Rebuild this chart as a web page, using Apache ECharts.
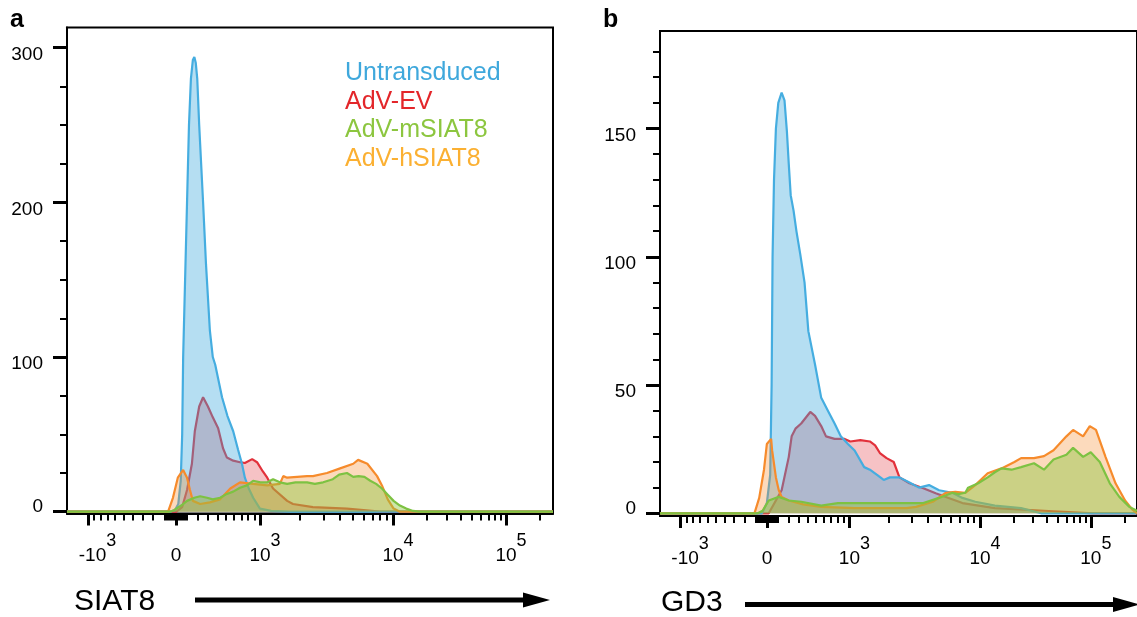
<!DOCTYPE html>
<html><head><meta charset="utf-8">
<script src="https://cdn.jsdelivr.net/npm/echarts@6/dist/echarts.min.js"></script>
<style>html,body{margin:0;padding:0;background:#fff}#c{width:1137px;height:617px}</style>
</head><body><div id="c"></div><script>
// ---------- DATA (x = display channel 0..1000 on the biexponential scale, y = count) ----------
const seriesNames = ['Untransduced', 'AdV-EV', 'AdV-mSIAT8', 'AdV-hSIAT8'];

// Panel a: SIAT8
const siat8Untransduced = [[0,0],[212,0],[222,1],[229,5],[234,20],[237,50],[239,100],[247,200],[251,250],[255,280],[259,292],[262,294],[265,290],[268,280],[272,250],[280,200],[286,160],[294,117],[300,100],[305,95],[319,74],[330,62],[342,52],[352,40],[360,31],[366,22],[374,15],[383,9],[397,2],[420,0.5],[460,0],[1000,0]];
const siat8EV = [[0,0],[225,0],[237,3],[247,14],[257,31],[263,52],[272,68],[280,74],[290,68],[300,61],[311,54],[321,41],[329,35],[342,33],[356,32],[366,31.5],[381,34],[391,32],[403,26],[412,22],[424,15],[453,7],[465,5],[506,3],[576,2],[644,0],[1000,0]];
const siat8mSIAT8 = [[0,0],[212,0],[220,1],[235,4],[247,7],[262,9],[274,10],[288,9],[300,8],[315,9],[329,11.5],[342,13],[356,15.5],[370,17],[383,20],[398,19],[412,19],[424,21],[438,19],[453,18],[470,19],[494,19],[510,18],[527,19],[547,21],[560,24],[576,25],[589,22.5],[600,23],[612,22.5],[624,20],[636,18],[648,15],[660,11],[672,7],[685,4],[698,2],[712,0.5],[725,0],[1000,0]];
const siat8hSIAT8 = [[0,0],[208,0],[218,9],[228,22],[239,27],[247,22],[253,14],[259,7],[274,5],[294,6],[315,8],[336,15],[356,19],[383,18],[412,17],[438,18],[445,23],[453,22],[494,23],[506,23],[535,25],[562,28],[589,31],[599,33.5],[618,31],[638,23],[648,17],[660,8],[672,2],[685,0],[1000,0]];

// Panel b: GD3
const gd3Untransduced = [[0,0],[214,0],[224,4],[231,15],[234,50],[236,100],[239,130],[243,150],[248,160],[255,164],[261,161],[266,149],[270,136],[274,124],[280,118],[286,110],[294,101],[303,90],[311,71],[325,58],[338,45],[352,40],[366,35],[379,30],[394,27],[408,24.5],[428,18],[440,17],[455,15],[469,13],[482,14],[502,14],[523,12],[543,10],[564,11],[585,9],[613,8],[634,6],[661,4.5],[702,3],[757,2],[799,0],[1000,0]];
const gd3EV = [[0,0],[228,0],[255,9],[270,22],[276,30],[284,33],[296,35],[315,39.5],[325,38],[338,34],[348,30],[366,29],[387,29],[399,28],[420,28.5],[440,28],[451,26.5],[461,23.5],[475,21.5],[490,20],[496,17],[502,14],[523,11.7],[552,9.8],[578,7.8],[605,6],[634,4],[702,2],[805,1],[908,0],[1000,0]];
const gd3mSIAT8 = [[0,0],[205,0],[215,1],[228,5],[249,6.4],[270,5],[296,4.5],[338,3],[373,4],[408,4],[455,4],[517,4],[552,4],[585,6],[613,8],[625,7.5],[640,8],[646,10],[667,11.7],[687,14],[702,16],[716,17.5],[737,17],[757,18],[784,19.5],[805,17],[825,21],[852,22.8],[866,25.5],[887,22],[903,23.8],[922,20],[943,11.7],[963,6.4],[984,2.5],[1000,1]];
const gd3hSIAT8 = [[0,0],[198,0],[208,6],[218,17],[224,27],[233,29],[235,24.6],[243,14],[249,9],[255,6.4],[270,5],[300,3.5],[338,2.5],[408,2],[455,2],[517,2],[537,2.5],[572,4.5],[599,8],[619,8.4],[640,8],[661,11],[687,15.6],[716,17.5],[743,20],[757,21.5],[784,21.5],[805,22.3],[825,24.6],[852,30],[866,32.5],[887,30],[901,34],[914,32.5],[934,22],[955,11.7],[975,5],[990,1.5],[1000,0]];

// Tick values (fluorescence units) and labels
const xMajorValues = [-1000, 0, 1000, 10000, 100000];
const xMajorBase = ['-10', '0', '10', '10', '10'];
const xMajorExp = ['3', '', '3', '4', '5'];
const xMinorValues = [-900,-800,-700,-600,-500,-400,-300,-200,-100,-90,-80,-70,-60,-50,-40,-30,-20,-10,
  10,20,30,40,50,60,70,80,90,100,200,300,400,500,600,700,800,900,
  2000,3000,4000,5000,6000,7000,8000,9000,20000,30000,40000,50000,60000,70000,80000,90000,200000];
const yMajorA = [0, 100, 200, 300];
const yMinorA = [25, 50, 75, 125, 150, 175, 225, 250, 275];
const yMajorB = [0, 50, 100, 150];
const yMinorB = [10, 20, 30, 40, 60, 70, 80, 90, 110, 120, 130, 140, 160, 170, 180];

// ---------- SCALE: biexponential display transform (fluorescence -> channel) ----------
function toChannel(v) {
  const A = 570, S = Math.asinh(1000 / A);
  if (v >= 1000) {
    const L = Math.log10(v), logs = [3, 4, 5, 6], ch = [397.1, 670.8, 903.3, 1135.8];
    for (let i = 0; i < 3; i++) if (L <= logs[i + 1]) return ch[i] + (L - logs[i]) / (logs[i + 1] - logs[i]) * (ch[i + 1] - ch[i]);
  }
  if (v >= 0) return 224.3 + 172.8 * Math.asinh(v / A) / S;
  return 224.3 - 181.1 * Math.asinh(-v / A) / S;
}

const FONT = "'Liberation Sans', Arial, Helvetica, sans-serif";
const colors = { 'Untransduced': '#45ade0', 'AdV-EV': '#e2313b', 'AdV-mSIAT8': '#7dc242', 'AdV-hSIAT8': '#f68b2c' };
const fills = { 'Untransduced': 'rgba(62,170,222,0.55)', 'AdV-EV': 'rgba(226,49,59,0.42)', 'AdV-mSIAT8': 'rgba(141,198,63,0.62)', 'AdV-hSIAT8': 'rgba(246,139,44,0.45)' };
const legendColors = { 'Untransduced': '#3fa8dc', 'AdV-EV': '#e3262a', 'AdV-mSIAT8': '#8cc63f', 'AdV-hSIAT8': '#fbb032' };

const majorCh = xMajorValues.map(toChannel);
const minorCh = xMinorValues.map(toChannel);

function xLabelFmt(v) {
  let idx = 0, best = 1e9;
  majorCh.forEach((c, i) => { if (Math.abs(c - v) < best) { best = Math.abs(c - v); idx = i; } });
  const b = xMajorBase[idx], e = xMajorExp[idx];
  if (!e) return '{b|' + b + '}';
  return (b.startsWith('-') ? '{pn| }' : '{p| }') + '{b|' + b + '}{s|' + e + '}';
}
const xRich = {
  b: { fontSize: 19, fontFamily: FONT, color: '#000', lineHeight: 19, padding: [14, 0, 0, 0] },
  s: { fontSize: 18, fontFamily: FONT, color: '#000', lineHeight: 18, padding: [0, 0, 15, 0] },
  p: { width: 10, fontSize: 18, lineHeight: 18 },
  pn: { width: 19, fontSize: 18, lineHeight: 18 }
};
const yRich = {
  n: { fontSize: 19, fontFamily: FONT, color: '#000', padding: [14, 0, 0, 0] },
  z: { fontSize: 19, fontFamily: FONT, color: '#000', padding: [0, 0, 9, 0] }
};

function xAxes(gridIndex) {
  return [{
    type: 'value', gridIndex, min: 0, max: 1000, position: 'bottom',
    axisLine: { show: true, onZero: false, lineStyle: { color: '#000', width: 2 } },
    axisTick: { show: true, customValues: majorCh, length: 12, lineStyle: { color: '#000', width: 3 } },
    axisLabel: { show: true, customValues: majorCh, margin: 26, formatter: xLabelFmt, rich: xRich },
    splitLine: { show: false }
  }, {
    type: 'value', gridIndex, min: 0, max: 1000, position: 'bottom',
    axisLine: { show: false, onZero: false },
    axisTick: { show: true, customValues: minorCh, length: 7, lineStyle: { color: '#000', width: 2 } },
    axisLabel: { show: false }, splitLine: { show: false }
  }];
}
function yAxes(gridIndex, min, max, majors, minors) {
  return [{
    type: 'value', gridIndex, min, max, position: 'left',
    axisLine: { show: true, onZero: false, lineStyle: { color: '#000', width: 2 } },
    axisTick: { show: true, customValues: majors, length: 14, lineStyle: { color: '#000', width: 3 } },
    axisLabel: { show: true, customValues: majors, margin: 24, formatter: v => (v === 0 ? '{z|0}' : '{n|' + v + '}'), rich: yRich },
    splitLine: { show: false }
  }, {
    type: 'value', gridIndex, min, max, position: 'left',
    axisLine: { show: false, onZero: false },
    axisTick: { show: true, customValues: minors, length: 7, lineStyle: { color: '#000', width: 2 } },
    axisLabel: { show: false }, splitLine: { show: false }
  }];
}
function mk(name, data, xi, yi, z) {
  return {
    type: 'line', name, data, xAxisIndex: xi, yAxisIndex: yi, z, symbol: 'none', showSymbol: false, smooth: false,
    lineStyle: { color: colors[name], width: 2.2 }, itemStyle: { color: colors[name] },
    areaStyle: { color: fills[name] }, emphasis: { disabled: true }
  };
}

const panelA = { 'Untransduced': siat8Untransduced, 'AdV-EV': siat8EV, 'AdV-mSIAT8': siat8mSIAT8, 'AdV-hSIAT8': siat8hSIAT8 };
const panelB = { 'Untransduced': gd3Untransduced, 'AdV-EV': gd3EV, 'AdV-mSIAT8': gd3mSIAT8, 'AdV-hSIAT8': gd3hSIAT8 };
const drawOrder = ['AdV-EV', 'Untransduced', 'AdV-hSIAT8', 'AdV-mSIAT8'];
const series = [];
drawOrder.forEach((n, i) => series.push(mk(n, panelA[n], 0, 0, 2 + i)));
drawOrder.forEach((n, i) => series.push(mk(n, panelB[n], 2, 2, 2 + i)));

function arrow(x1, x2, y) {
  return [
    { type: 'line', shape: { x1: x1, y1: y, x2: x2 - 24, y2: y }, style: { stroke: '#000', lineWidth: 5 } },
    { type: 'polygon', shape: { points: [[x2 - 27, y - 7.5], [x2, y], [x2 - 27, y + 7.5]] }, style: { fill: '#000' } }
  ];
}
function txt(text, x, y, size, weight) {
  return { type: 'text', x, y, style: { text, fill: '#000', font: weight + ' ' + size + 'px ' + FONT, align: 'left', textAlign: 'left', verticalAlign: 'middle', textVerticalAlign: 'middle' } };
}

const chart = echarts.init(document.getElementById('c'), null, { renderer: 'canvas' });
chart.setOption({
  animation: false,
  backgroundColor: '#fff',
  grid: [
    { left: 67, top: 27.5, width: 486, height: 486, show: true, borderColor: '#000', borderWidth: 2, backgroundColor: 'transparent' },
    { left: 660, top: 31, width: 486, height: 485, show: true, borderColor: '#000', borderWidth: 2, backgroundColor: 'transparent' }
  ],
  xAxis: [...xAxes(0), ...xAxes(1)],
  yAxis: [...yAxes(0, -1.16, 313, yMajorA, yMinorA), ...yAxes(1, -1.05, 188, yMajorB, yMinorB)],
  legend: {
    left: 335, top: 54, orient: 'vertical', itemWidth: 0, itemHeight: 0, itemGap: 0, selectedMode: false,
    icon: 'rect', z: 10,
    textStyle: { fontSize: 25, fontFamily: FONT, lineHeight: 28.5 },
    data: seriesNames.map(n => ({ name: n, textStyle: { color: legendColors[n] } }))
  },
  graphic: [
    txt('a', 10, 20, 25, 'bold'),
    txt('b', 603, 20, 25, 'bold'),
    txt('SIAT8', 74, 602, 30, 'normal'),
    txt('GD3', 661, 603, 30, 'normal'),
    ...arrow(195, 550, 600),
    ...arrow(745, 1140, 604.5)
  ],
  series
});
</script></body></html>
